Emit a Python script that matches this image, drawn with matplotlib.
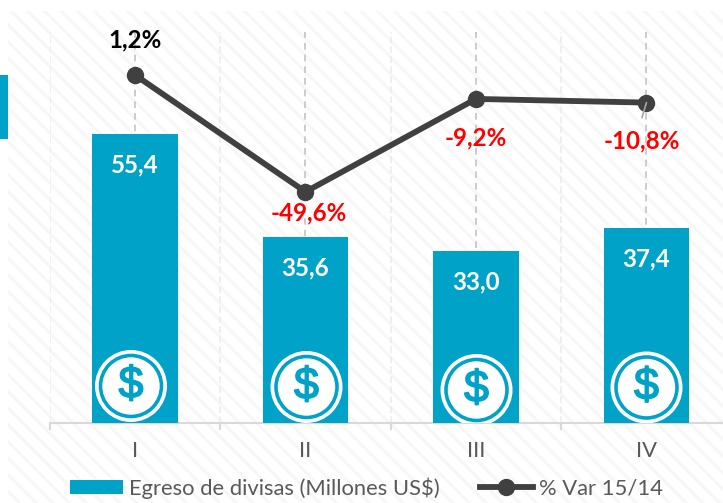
import matplotlib
matplotlib.use('Agg')
import matplotlib.pyplot as plt
import matplotlib.patheffects as pe
from matplotlib.patches import Rectangle, Circle

plt.rcParams['font.family'] = ['Lato', 'DejaVu Sans']

W, H = 723, 503
TEAL = '#00a3c7'
DARK = '#404040'
GREY = '#595959'

quarters = ['I', 'II', 'III', 'IV']
egreso = [55.4, 35.6, 33.0, 37.4]
var_pct = [1.2, -49.6, -9.2, -10.8]
var_colors = ['black', 'red', 'red', 'red']
# label offsets from the line points, in pixels
var_offsets = [(0, 35), (3, -21), (0, -39), (-5, -38)]
# icon centres, in image pixels
icon_centres = [(131, 386), (306.5, 387), (476.5, 390), (646.5, 387.5)]


def fmt(value, suffix=''):
    return f'{value:.1f}'.replace('.', ',') + suffix


fig = plt.figure(figsize=(W / 100, H / 100), dpi=100, facecolor='white')

# faint striped backdrop
plt.rcParams['hatch.linewidth'] = 2.2
fig.patches.append(Rectangle((8 / W, 0), (W - 8) / W, (H - 11) / H, transform=fig.transFigure,
                             facecolor='white', edgecolor='#f7f7f7', hatch='\\\\', linewidth=0, zorder=-2))
# tab on the left edge
fig.patches.append(Rectangle((0, 1 - 139 / H), 8 / W, 64 / H, transform=fig.transFigure,
                             facecolor=TEAL, edgecolor='none', zorder=-1))

ax = fig.add_axes([49.7 / W, 1 - 423 / H, (W - 49.7) / W, (423 - 32) / H])
ax.patch.set_alpha(0)
x = list(range(len(quarters)))
ax.bar(x, egreso, width=0.5, color=TEAL, zorder=3)
ax.set_ylim(0, (423 - 32) / 5.217)

for side in ['top', 'right', 'left']:
    ax.spines[side].set_visible(False)
ax.spines['bottom'].set_color('#d9d9d9')
ax.spines['bottom'].set_linewidth(1.5)
ax.set_yticks([])
ax.set_xticks(x)
ax.set_xticklabels(quarters, fontsize=15.8, color=GREY)
ax.tick_params(axis='x', which='major', length=0, pad=13)
ax.set_xticks([i - 0.5 for i in range(len(quarters) + 1)], minor=True)
ax.tick_params(axis='x', which='minor', length=5, width=1.5, color='#d9d9d9')
ax.grid(True, axis='x', which='major', color='#c4c4c4', linestyle=(0, (4, 3)), linewidth=1.2, zorder=1)
ax.grid(True, axis='x', which='minor', color='#ececec', linestyle=(0, (4, 2)), linewidth=1.2, zorder=1)
ax.set_axisbelow(True)

for i, value in enumerate(egreso):
    ax.annotate(fmt(value), (i, value), xytext=(0, -31 * 0.72), textcoords='offset points',
                ha='center', va='center', fontsize=17.4, fontweight='bold', color='white', zorder=6)

ax2 = ax.twinx()
ax2.patch.set_alpha(0)
ax2.set_ylim(1.2 - 348 / 2.3, 1.2 + 43 / 2.3)
ax2.set_yticks([])
for side in ax2.spines:
    ax2.spines[side].set_visible(False)
line, = ax2.plot(x, var_pct, '-o', color=DARK, linewidth=4.2, markersize=11.5, zorder=5)
ax.set_xlim(-0.5, (W - 49.7) / 170.5 - 0.5)

for i, value in enumerate(var_pct):
    dx, dy = var_offsets[i]
    ax2.annotate(fmt(value, '%'), (i, value), xytext=(dx * 0.72, dy * 0.72), textcoords='offset points',
                 ha='center', va='center', fontsize=17.4, fontweight='bold', color=var_colors[i])

# small leader line under the last point
ax2.annotate('', xy=(3, var_pct[3]), xytext=(-4.5 * 0.72, -15 * 0.72), textcoords='offset points',
             arrowprops=dict(arrowstyle='-', color='#a6a6a6', lw=1.2, shrinkA=0, shrinkB=0), zorder=6)

# dollar icons on a pixel overlay
over = fig.add_axes([0, 0, 1, 1])
over.patch.set_alpha(0)
over.set_xlim(0, W)
over.set_ylim(H, 0)
over.axis('off')
clip = Rectangle((0, 0), W, 423, transform=over.transData)
for cx, cy in icon_centres:
    disc = Circle((cx, cy), 36, facecolor='white', edgecolor='none')
    ring = Circle((cx, cy), 30.5, facecolor='white', edgecolor=TEAL, linewidth=2.6)
    over.add_patch(disc)
    over.add_patch(ring)
    disc.set_clip_path(clip)
    over.text(cx, cy, '$', ha='center', va='center', fontsize=32, color=TEAL, family=['Liberation Sans'],
              path_effects=[pe.withStroke(linewidth=1.2, foreground=TEAL)])

# legend
bar_handle = Rectangle((0, 0), 1, 1, facecolor=TEAL, edgecolor='none')
leg = fig.legend([bar_handle, line], ['Egreso de divisas (Millones US$)', '% Var 15/14'],
                 loc='center', bbox_to_anchor=(366.5 / W, 1 - 488 / H), ncol=2, frameon=False,
                 fontsize=15.8, labelcolor=GREY, handlelength=2.4, handleheight=0.65,
                 handletextpad=0.27, columnspacing=1.84, borderpad=0)

fig.savefig('out.png', dpi=100)
